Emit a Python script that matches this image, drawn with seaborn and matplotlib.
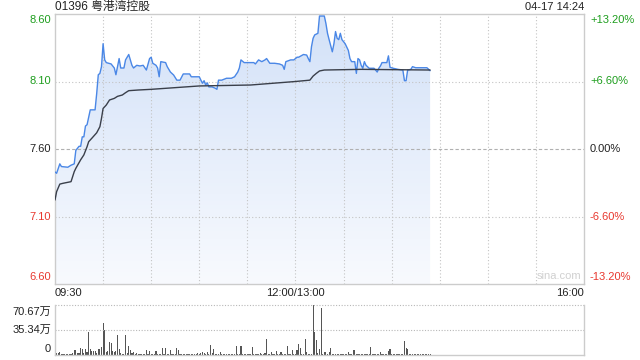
import numpy as np
import pandas as pd
import matplotlib
matplotlib.use("Agg")
import matplotlib.pyplot as plt
from matplotlib.patches import Polygon
from matplotlib.colors import LinearSegmentedColormap
import seaborn as sns

# ---------------- data ----------------
title = "01396 粤港湾控股"
stamp = "04-17 14:24"
prev_close = 7.60
y_ticks = [8.60, 8.10, 7.60, 7.10, 6.60]
pct_labels = ["+13.20%", "+6.60%", "0.00%", "-6.60%", "-13.20%"]
x_labels = ["09:30", "12:00/13:00", "16:00"]
x_label_pos = [0, 150, 330]
vol_labels = ["70.67万", "35.34万", "0"]
vol_ticks = [70.67, 35.34, 0]

price_min = [0, 1, 3, 4, 8, 10, 12, 13, 15, 16, 17, 18, 19, 20, 21, 22, 25, 26, 27, 28,
             29, 30, 31, 32, 35, 37, 38, 40, 41, 43, 44, 46, 48, 49, 51, 53, 55, 57, 59, 60,
             61, 63, 64, 65, 66, 69, 70, 72, 74, 76, 78, 80, 84, 85, 90, 91, 92, 93, 94, 95,
             96, 98, 100, 101, 102, 104, 107, 110, 112, 114, 115, 116, 118, 124, 125, 127, 129, 131, 132, 134,
             137, 140, 142, 143, 144, 147, 149, 151, 152, 155, 157, 158, 159, 160, 161, 162, 164, 165, 168, 169,
             170, 171, 173, 174, 175, 176, 177, 178, 179, 181, 183, 184, 185, 187, 188, 189, 190, 191, 192, 193,
             194, 196, 199, 200, 201, 202, 203, 204, 207, 208, 209, 211, 214, 217, 218, 219, 220, 222, 223, 225,
             232, 234]
price_val = [7.43, 7.42, 7.49, 7.47, 7.465, 7.48, 7.49, 7.59, 7.62, 7.62, 7.69, 7.69, 7.77, 7.78, 7.835, 7.89, 7.89, 8.01, 8.15, 8.16,
             8.21, 8.38, 8.26, 8.24, 8.23, 8.20, 8.15, 8.27, 8.20, 8.20, 8.26, 8.30, 8.22, 8.20, 8.22, 8.215, 8.22, 8.185, 8.27, 8.28,
             8.235, 8.22, 8.20, 8.135, 8.247, 8.24, 8.21, 8.17, 8.148, 8.11, 8.11, 8.156, 8.156, 8.135, 8.135, 8.11, 8.087, 8.106, 8.074, 8.09,
             8.06, 8.06, 8.05, 8.042, 8.11, 8.11, 8.124, 8.124, 8.135, 8.17, 8.20, 8.26, 8.24, 8.24, 8.23, 8.26, 8.247, 8.26, 8.27, 8.235,
             8.235, 8.23, 8.22, 8.19, 8.247, 8.26, 8.26, 8.28, 8.28, 8.30, 8.296, 8.27, 8.247, 8.358, 8.42, 8.445, 8.457, 8.585, 8.585, 8.53,
             8.457, 8.41, 8.32, 8.38, 8.47, 8.42, 8.41, 8.457, 8.41, 8.38, 8.33, 8.27, 8.247, 8.247, 8.16, 8.27, 8.26, 8.22, 8.198, 8.247,
             8.22, 8.198, 8.198, 8.185, 8.17, 8.198, 8.215, 8.24, 8.24, 8.29, 8.205, 8.198, 8.19, 8.185, 8.106, 8.106, 8.185, 8.19, 8.21, 8.202,
             8.202, 8.18]

avg_min = [0, 1, 3, 5, 10, 12, 13, 16, 18, 20, 21, 23, 26, 28, 29, 30, 32, 34, 37, 39,
           42, 44, 46, 52, 60, 90, 122, 150, 159, 161, 163, 165, 168, 191, 234]
avg_val = [7.222, 7.284, 7.34, 7.346, 7.358, 7.432, 7.457, 7.52, 7.556, 7.617, 7.654, 7.68, 7.72, 7.765, 7.827, 7.90, 7.926, 7.963, 7.975, 7.99,
           8.00, 8.017, 8.032, 8.037, 8.042, 8.067, 8.074, 8.10, 8.11, 8.14, 8.16, 8.178, 8.185, 8.19, 8.185]

# volume per minute (万股), minutes 0..234
volume = [11.8, 3.5, 2.5, 4, 2, 1.5, 1, 1.2, 1.5, 2,
          2, 2.5, 7, 7, 3, 3.5, 9.4, 8, 3, 8,
          4, 33, 8, 5, 6, 6, 3, 9, 9, 12,
          45.7, 35.3, 4, 6, 18.8, 17.4, 6, 4, 6, 28,
          8.5, 3, 2, 2, 28, 2.5, 12.7, 7, 3, 4.7,
          2, 3, 1.5, 2, 1.5, 2, 1.5, 7, 1.5, 6,
          1.5, 2, 1.5, 5.7, 2, 1.5, 2, 9.4, 2, 9.4,
          2, 1.5, 7, 2, 1.5, 2, 9.4, 7, 1.5, 1.5,
          1.5, 1.2, 1.5, 1.2, 1.5, 1.2, 1.5, 1.2, 2, 2.5,
          2, 2.5, 3.8, 2.5, 2, 3.8, 2, 14, 3, 8,
          2, 1.5, 2, 4.7, 2, 1.5, 1.2, 1.5, 1.2, 1.5,
          1.2, 1.5, 1.5, 12.7, 2, 1.5, 12.7, 1.5, 2, 1.5,
          1.5, 2, 1.5, 10.8, 1.5, 2, 1.5, 2, 2.5, 2,
          2, 2.5, 22, 2, 1.5, 4.7, 1.5, 2, 6, 1.5,
          1.5, 3.8, 1.5, 2, 1.5, 12.7, 1.5, 2, 7, 1.5,
          2, 7, 15.5, 9.4, 2, 1.5, 22, 4.7, 2, 1.5,
          2, 70.67, 33, 21, 3, 8, 66, 2, 4.7, 4.7,
          2, 4.7, 9.4, 1.5, 1.5, 1.2, 1.5, 1.2, 1.5, 1.2,
          1.5, 2, 1.5, 4.7, 2, 1.5, 7, 7, 2, 1.5,
          1.5, 1.2, 1.5, 1.2, 1.5, 2, 2, 10.8, 1.5, 2,
          1.5, 1.2, 1.5, 3.8, 1.5, 1.2, 1.5, 2, 5.7, 8,
          1.5, 1.2, 1.5, 1.2, 1.5, 1.2, 1.5, 1.5, 20, 9.4,
          8, 1.5, 1.2, 1.2, 1.5, 1.2, 1.2, 1.5, 1.2, 1.2,
          1.2, 1.0, 1.2, 1.0, 1.0]

# ---------------- style ----------------
sns.set_style("white")
plt.rcParams["font.family"] = ["Liberation Sans", "Noto Sans CJK SC", "DejaVu Sans"]

GREEN = "#1e9e1e"
RED = "#e8382f"
TXT = "#222222"
FRAME = "#cccccc"
GRID = "#c4c4c4"

fig = plt.figure(figsize=(6.4, 3.6), dpi=100)
ax = fig.add_axes([55 / 640, 76 / 360, 529 / 640, 270 / 360])
axv = fig.add_axes([55 / 640, 5 / 360, 529 / 640, 50 / 360])

ymin, ymax = y_ticks[-1], y_ticks[0]

# gradient fill under price
pm = np.array(price_min, dtype=float)
pv = np.array(price_val, dtype=float)
poly = Polygon(np.column_stack([np.r_[pm[0], pm, pm[-1]], np.r_[ymin, pv, ymin]]),
               closed=True, facecolor="none", edgecolor="none")
ax.add_patch(poly)
cmap = LinearSegmentedColormap.from_list("g", ["#f8fafe", "#e6eefb", "#d2e1f8"])
grad = np.linspace(0, 1, 256).reshape(-1, 1)
im = ax.imshow(grad, extent=[0, 330, ymin, ymax], aspect="auto", cmap=cmap,
               origin="lower", zorder=1, interpolation="bilinear")
im.set_clip_path(poly)

# grid lines
for m in range(30, 330, 30):
    ax.axvline(m, color=GRID, lw=0.8, ls=(0, (1, 2)), zorder=2)
for yv in [8.10, 7.10]:
    ax.axhline(yv, color=GRID, lw=0.8, ls=(0, (1, 2)), zorder=2)
ax.axhline(prev_close, color="#b0b0b0", lw=0.8, ls=(0, (3, 2)), zorder=2)

df_p = pd.DataFrame({"t": price_min, "p": price_val})
df_a = pd.DataFrame({"t": avg_min, "p": avg_val})
sns.lineplot(data=df_p, x="t", y="p", ax=ax, color="#4a87e6", lw=1.0, estimator=None, zorder=4)
sns.lineplot(data=df_a, x="t", y="p", ax=ax, color="#3a3f4a", lw=1.0, estimator=None, zorder=5)

ax.set_xlim(0, 330)
ax.set_ylim(ymin, ymax)
ax.set_xticks([])
ax.set_yticks([])
ax.set_xlabel("")
ax.set_ylabel("")
for s in ax.spines.values():
    s.set_color(FRAME)
    s.set_linewidth(1.0)

# left / right tick labels
lcolors = [GREEN, GREEN, TXT, RED, RED]
for i, (yv, lab, c) in enumerate(zip(y_ticks, pct_labels, lcolors)):
    va = "center"
    off = 0
    if i == 0:
        off = -6
    elif i == len(y_ticks) - 1:
        off = 7
    ax.annotate(f"{yv:.2f}", xy=(0, yv), xycoords=("axes fraction", "data"),
                xytext=(-4, off), textcoords="offset pixels", ha="right", va=va,
                fontsize=8, color=c)
    ax.annotate(lab, xy=(1, yv), xycoords=("axes fraction", "data"),
                xytext=(6, off), textcoords="offset pixels", ha="left", va=va,
                fontsize=8, color=c)

# x labels
has = ["left", "center", "right"]
for lab, pos, ha in zip(x_labels, x_label_pos, has):
    ax.annotate(lab, xy=(pos, 0), xycoords=("data", "axes fraction"),
                xytext=(0, -9), textcoords="offset pixels", ha=ha, va="center",
                fontsize=8, color=TXT)

# title and stamp
fig.text(55 / 640, 1 - 7 / 360, title, ha="left", va="center", fontsize=8.5, color=TXT)
fig.text(584 / 640, 1 - 7 / 360, stamp, ha="right", va="center", fontsize=8, color=TXT)
ax.text(0.995, 0.012, "sina.com", transform=ax.transAxes, ha="right", va="bottom",
        fontsize=8, color="#d0d0d0")

# volume panel
axv.bar(np.arange(len(volume)), volume, width=0.7, color="#555555", linewidth=0)
axv.set_xlim(0, 330)
axv.set_ylim(0, vol_ticks[0])
axv.axhline(vol_ticks[0], color="#b8b8b8", lw=0.8, ls=(0, (1, 1.5)), clip_on=False)
axv.axhline(vol_ticks[1], color="#b8b8b8", lw=0.8, ls=(0, (1, 1.5)))
axv.set_xticks([])
axv.set_yticks([])
for k, s in axv.spines.items():
    s.set_color(FRAME)
    s.set_linewidth(1.0)
axv.spines["top"].set_visible(False)
offs = [-7, 0, 6]
for lab, yv, off in zip(vol_labels, vol_ticks, offs):
    axv.annotate(lab, xy=(0, yv), xycoords=("axes fraction", "data"),
                 xytext=(-4, off), textcoords="offset pixels", ha="right", va="center",
                 fontsize=8, color=TXT)

fig.savefig("out.png", dpi=100)
